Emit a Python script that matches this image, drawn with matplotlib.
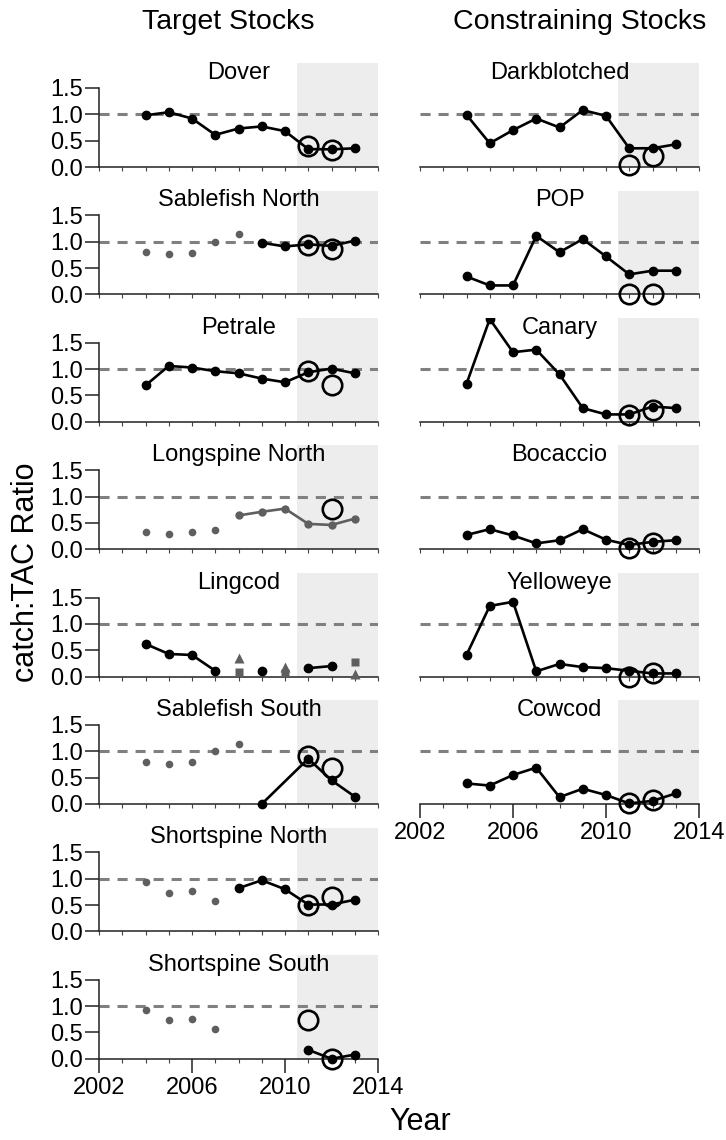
"""catch:TAC ratio by stock, target vs. constraining stocks, 2004-2013."""
import matplotlib

matplotlib.use("Agg")
import matplotlib.pyplot as plt
import numpy as np

plt.rcParams["font.family"] = ["Liberation Sans", "DejaVu Sans"]

NAN = np.nan
CIRC_X = [2011, 2012]

# ── target stocks ──
dover_x = [2004, 2005, 2006, 2007, 2008, 2009, 2010, 2011, 2012, 2013]
dover_y = [0.98, 1.04, 0.92, 0.61, 0.73, 0.77, 0.68, 0.34, 0.335, 0.355]
dover_c = [0.39, 0.32]

sabn_gx = [2004, 2005, 2006, 2007, 2008]
sabn_gy = [0.81, 0.76, 0.79, 1.00, 1.14]
sabn_x = [2009, 2010, 2011, 2012, 2013]
sabn_y = [0.98, 0.91, 0.95, 0.92, 1.02]
sabn_c = [0.94, 0.87]

petrale_x = [2004, 2005, 2006, 2007, 2008, 2009, 2010, 2011, 2012, 2013]
petrale_y = [0.69, 1.06, 1.03, 0.96, 0.92, 0.82, 0.75, 0.94, 1.01, 0.92]
petrale_c = [0.97, 0.70]

longn_gx = [2004, 2005, 2006, 2007]
longn_gy = [0.32, 0.28, 0.32, 0.36]
longn_lx = [2008, 2009, 2010, 2011, 2012, 2013]
longn_ly = [0.64, 0.71, 0.77, 0.48, 0.46, 0.58]
longn_cx = [2012]
longn_c = [0.76]

ling_x = [2004, 2005, 2006, 2007, 2008, 2009, 2010, 2011, 2012]
ling_y = [0.62, 0.43, 0.41, 0.11, NAN, 0.11, NAN, 0.16, 0.20]
ling_tri_x = [2008, 2010, 2013]
ling_tri_y = [0.35, 0.19, 0.045]
ling_sq_x = [2008, 2010, 2013]
ling_sq_y = [0.08, 0.06, 0.27]

sabs_gx = [2004, 2005, 2006, 2007, 2008]
sabs_gy = [0.80, 0.76, 0.79, 1.00, 1.14]
sabs_x = [2009, 2011, 2012, 2013]
sabs_y = [0.00, 0.86, 0.45, 0.14]
sabs_c = [0.92, 0.68]

shpn_gx = [2004, 2005, 2006, 2007]
shpn_gy = [0.93, 0.73, 0.76, 0.57]
shpn_x = [2008, 2009, 2010, 2011, 2012, 2013]
shpn_y = [0.82, 0.97, 0.80, 0.51, 0.51, 0.60]
shpn_c = [0.50, 0.65]

shps_gx = [2004, 2005, 2006, 2007]
shps_gy = [0.92, 0.73, 0.76, 0.57]
shps_x = [2011, 2012, 2013]
shps_y = [0.17, 0.00, 0.08]
shps_c = [0.73, 0.00]

# ── constraining stocks ──
ALL_X = [2004, 2005, 2006, 2007, 2008, 2009, 2010, 2011, 2012, 2013]
dark_y = [0.99, 0.45, 0.70, 0.92, 0.75, 1.08, 0.97, 0.355, 0.355, 0.43]
dark_c = [0.03, 0.21]
pop_y = [0.34, 0.17, 0.17, 1.11, 0.80, 1.05, 0.72, 0.38, 0.45, 0.45]
pop_c = [0.00, 0.00]
canary_y = [0.72, 1.95, 1.32, 1.37, 0.90, 0.26, 0.14, 0.14, 0.29, 0.26]
canary_c = [0.12, 0.23]
boc_y = [0.27, 0.38, 0.26, 0.11, 0.17, 0.38, 0.18, 0.08, 0.14, 0.17]
boc_c = [0.03, 0.11]
yelo_y = [0.41, 1.34, 1.42, 0.10, 0.24, 0.18, 0.16, 0.11, 0.06, 0.06]
yelo_c = [0.00, 0.06]
cow_y = [0.39, 0.35, 0.55, 0.69, 0.13, 0.29, 0.17, 0.01, 0.06, 0.20]
cow_c = [0.01, 0.08]

# ── layout (pixels of a 726x1140 canvas) ──
W, H = 726, 1140
COL_LEFT = [99, 420]
AX_W = 279
ZERO0 = 167
ROW_STEP = 127.4
PX_UNIT = 52.7
YLO, YHI = -0.3, 1.97

BLACK = "#000000"
GRAY = "#5f5f5f"
SHADE = "#ededed"
DASH = "#808080"
TICK_FS = 17
TITLE_FS = 17


def make_ax(fig, col, row):
    z = ZERO0 + row * ROW_STEP
    top = z - YHI * PX_UNIT
    bot = z - YLO * PX_UNIT
    ax = fig.add_axes([COL_LEFT[col] / W, 1 - bot / H, AX_W / W, (bot - top) / H])
    ax.set_facecolor("none")
    ax.set_xlim(2002, 2014)
    ax.set_ylim(YLO, YHI)
    for s in ("top", "right"):
        ax.spines[s].set_visible(False)
    ax.spines["bottom"].set_position(("data", 0))
    ax.spines["bottom"].set_linewidth(1.1)
    ax.spines["bottom"].set_color("#222222")
    if col == 0:
        ax.spines["left"].set_bounds(0, 1.5)
        ax.spines["left"].set_linewidth(1.1)
        ax.spines["left"].set_color("#222222")
        ax.set_yticks([0, 0.5, 1.0, 1.5])
        ax.set_yticklabels(["0.0", "0.5", "1.0", "1.5"])
        ax.tick_params(axis="y", length=10, width=1.1, pad=1.5, labelsize=TICK_FS, color="#222222")
    else:
        ax.spines["left"].set_visible(False)
        ax.set_yticks([])
    ax.fill_between([2010.5, 2014], 0, YHI, color=SHADE, lw=0, zorder=0)
    ax.axhline(1.0, color=DASH, lw=2.2, ls=(0, (3.3, 2.6)), zorder=1)
    return ax


def x_axis(ax, labelled):
    ax.set_xticks(range(2002, 2015), minor=True)
    ax.tick_params(axis="x", which="minor", length=3, width=0.8, color="#444444")
    if labelled:
        ax.set_xticks([2002, 2006, 2010, 2014])
        ax.tick_params(axis="x", which="major", length=10, width=1.1, pad=3,
                       labelsize=TICK_FS, color="#222222")
    else:
        ax.set_xticks([])


def draw(ax, title, x=None, y=None, gx=None, gy=None, cx=CIRC_X, cy=None):
    ax.text(0.5, 1.01, title, transform=ax.transAxes, ha="center", va="top",
            fontsize=TITLE_FS, zorder=6)
    if gx is not None:
        ax.plot(gx, gy, "o", color=GRAY, ms=5.5, mec="none", zorder=3)
    if x is not None:
        ax.plot(x, y, "-o", color=BLACK, lw=1.9, ms=6, zorder=4)
    if cy is not None:
        ax.plot(cx, cy, "o", mfc="none", mec=BLACK, mew=1.9, ms=14, zorder=5)


fig = plt.figure(figsize=(W / 100, H / 100), dpi=100)

# left column
target = [
    ("Dover", dict(x=dover_x, y=dover_y, cy=dover_c)),
    ("Sablefish North", dict(x=sabn_x, y=sabn_y, gx=sabn_gx, gy=sabn_gy, cy=sabn_c)),
    ("Petrale", dict(x=petrale_x, y=petrale_y, cy=petrale_c)),
    ("Longspine North", dict(gx=longn_gx, gy=longn_gy, cx=longn_cx, cy=longn_c)),
    ("Lingcod", dict(x=ling_x, y=ling_y)),
    ("Sablefish South", dict(x=sabs_x, y=sabs_y, gx=sabs_gx, gy=sabs_gy, cy=sabs_c)),
    ("Shortspine North", dict(x=shpn_x, y=shpn_y, gx=shpn_gx, gy=shpn_gy, cy=shpn_c)),
    ("Shortspine South", dict(x=shps_x, y=shps_y, gx=shps_gx, gy=shps_gy, cy=shps_c)),
]
for row, (name, kw) in enumerate(target):
    ax = make_ax(fig, 0, row)
    x_axis(ax, row == len(target) - 1)
    draw(ax, name, **kw)
    if name == "Longspine North":
        ax.plot(longn_lx, longn_ly, "-o", color=GRAY, lw=1.9, ms=6, mec="none", zorder=4)
    if name == "Lingcod":
        ax.plot(ling_tri_x, ling_tri_y, "^", color=GRAY, ms=6.5, mec="none", zorder=3)
        ax.plot(ling_sq_x, ling_sq_y, "s", color=GRAY, ms=5.5, mec="none", zorder=3)

# right column
constraining = [
    ("Darkblotched", dark_y, dark_c),
    ("POP", pop_y, pop_c),
    ("Canary", canary_y, canary_c),
    ("Bocaccio", boc_y, boc_c),
    ("Yelloweye", yelo_y, yelo_c),
    ("Cowcod", cow_y, cow_c),
]
for row, (name, vals, circ) in enumerate(constraining):
    ax = make_ax(fig, 1, row)
    x_axis(ax, row == len(constraining) - 1)
    draw(ax, name, x=ALL_X, y=vals, cy=circ)

fig.text(228 / W, 1 - 22 / H, "Target Stocks", ha="center", va="center", fontsize=20.5)
fig.text(580 / W, 1 - 22 / H, "Constraining Stocks", ha="center", va="center", fontsize=20.5)
fig.text(26 / W, 1 - 572 / H, "catch:TAC Ratio", rotation=90, ha="center", va="center", fontsize=22)
fig.text(420 / W, 1 - 1122 / H, "Year", ha="center", va="center", fontsize=22)

fig.savefig("out.png", dpi=100)
